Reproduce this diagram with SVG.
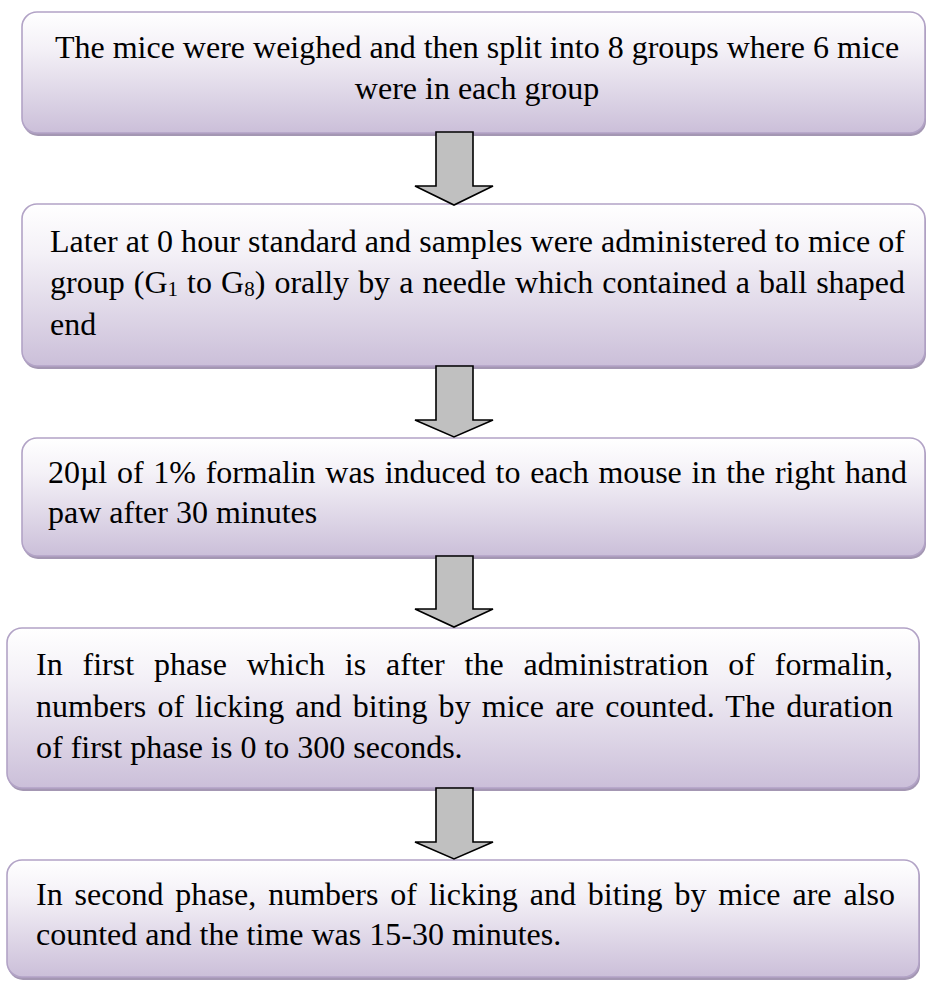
<svg xmlns="http://www.w3.org/2000/svg" width="927" height="981" viewBox="0 0 927 981">
<defs>
<linearGradient id="bg" x1="0" y1="0" x2="0" y2="1">
<stop offset="0" stop-color="#ffffff"/>
<stop offset="0.3" stop-color="#f4f1f7"/>
<stop offset="1" stop-color="#cbbfd9"/>
</linearGradient>
</defs>
<style>
.box{fill:url(#bg);stroke:#b2a3c6;stroke-width:1.6}
.sh{fill:#a497b3}
text{font-family:'Liberation Serif','Times New Roman',Tinos,'DejaVu Serif',serif;font-size:32px;fill:#000}
.sub{font-size:21px}
.arr{fill:#c0c0c0;stroke:#000;stroke-width:1.6;stroke-linejoin:miter}
</style>
<rect width="927" height="981" fill="#ffffff"/>

<g id="node1">
<rect class="sh" x="23" y="15" width="903" height="121" rx="15"/>
<rect class="box" x="22" y="12" width="903" height="121" rx="15"/>
<text x="477" y="58" text-anchor="middle">The mice were weighed and then split into 8 groups where 6 mice</text>
<text x="477" y="99" text-anchor="middle">were in each group</text>
</g>

<g id="node2">
<rect class="sh" x="23" y="207" width="903" height="162" rx="15"/>
<rect class="box" x="22" y="204" width="903" height="162" rx="15"/>
<text x="50" y="252" textLength="855" lengthAdjust="spacing">Later at 0 hour standard and samples were administered to mice of</text>
<text x="50" y="293" word-spacing="1.1" textLength="855" lengthAdjust="spacing">group (G<tspan class="sub" dy="3">1</tspan><tspan dy="-3"> to G</tspan><tspan class="sub" dy="3">8</tspan><tspan dy="-3">) orally by a needle which contained a ball shaped</tspan></text>
<text x="50" y="335">end</text>
</g>

<g id="node3">
<rect class="sh" x="23" y="441" width="903" height="118" rx="15"/>
<rect class="box" x="22" y="438" width="903" height="118" rx="15"/>
<text x="48" y="483" word-spacing="1.8" textLength="859" lengthAdjust="spacing">20µl of 1% formalin was induced to each mouse in the right hand</text>
<text x="48" y="523">paw after 30 minutes</text>
</g>

<g id="node4">
<rect class="sh" x="8" y="631" width="912" height="160" rx="15"/>
<rect class="box" x="7" y="628" width="912" height="160" rx="15"/>
<text x="36" y="675" word-spacing="11.9" textLength="857" lengthAdjust="spacing">In first phase which is after the administration of formalin,</text>
<text x="36" y="717" word-spacing="3.1" textLength="857" lengthAdjust="spacing">numbers of licking and biting by mice are counted. The duration</text>
<text x="36" y="758">of first phase is 0 to 300 seconds.</text>
</g>

<g id="node5">
<rect class="sh" x="8" y="863" width="912" height="117" rx="15"/>
<rect class="box" x="7" y="860" width="912" height="117" rx="15"/>
<text x="36" y="905" word-spacing="3.9" textLength="859" lengthAdjust="spacing">In second phase, numbers of licking and biting by mice are also</text>
<text x="36" y="945">counted and the time was 15-30 minutes.</text>
</g>

<g id="connectors">
<polygon class="arr" points="436,132 473,132 473,186 493,186 454,205 415,186 436,186"/>
<polygon class="arr" points="436,366 473,366 473,420 493,420 454,437 415,420 436,420"/>
<polygon class="arr" points="436,556 473,556 473,609 493,609 454,627 415,609 436,609"/>
<polygon class="arr" points="436,788 473,788 473,842 493,842 454,859 415,842 436,842"/>
</g>
</svg>
